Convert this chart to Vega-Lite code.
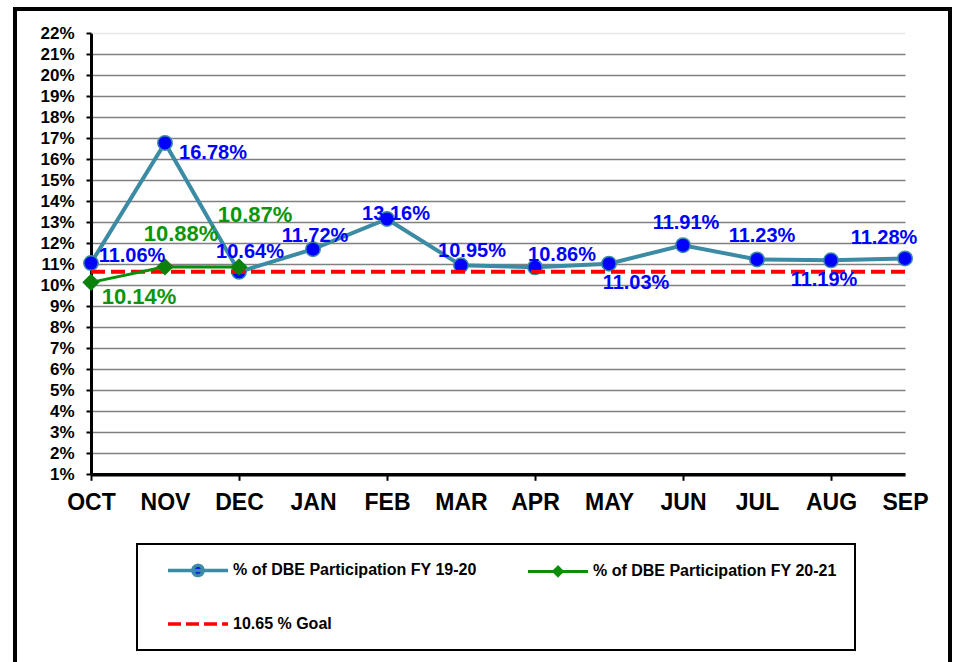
{
  "$schema": "https://vega.github.io/schema/vega-lite/v6.json",
  "width": 935,
  "height": 680,
  "autosize": {"type": "none"},
  "padding": {"left": 15, "top": 9, "right": 5, "bottom": 0},
  "background": "white",
  "config": {
    "view": {"stroke": "black", "strokeWidth": 4},
    "font": "Liberation Sans",
    "legend": {"strokeWidth": 2}
  },
  "data": {
    "values": [
      {"month": "OCT", "series": "% of DBE Participation FY 19-20", "value": 0.1106},
      {"month": "NOV", "series": "% of DBE Participation FY 19-20", "value": 0.1678},
      {"month": "DEC", "series": "% of DBE Participation FY 19-20", "value": 0.1064},
      {"month": "JAN", "series": "% of DBE Participation FY 19-20", "value": 0.1172},
      {"month": "FEB", "series": "% of DBE Participation FY 19-20", "value": 0.1316},
      {"month": "MAR", "series": "% of DBE Participation FY 19-20", "value": 0.1095},
      {"month": "APR", "series": "% of DBE Participation FY 19-20", "value": 0.1086},
      {"month": "MAY", "series": "% of DBE Participation FY 19-20", "value": 0.1103},
      {"month": "JUN", "series": "% of DBE Participation FY 19-20", "value": 0.1191},
      {"month": "JUL", "series": "% of DBE Participation FY 19-20", "value": 0.1123},
      {"month": "AUG", "series": "% of DBE Participation FY 19-20", "value": 0.1119},
      {"month": "SEP", "series": "% of DBE Participation FY 19-20", "value": 0.1128},
      {"month": "OCT", "series": "% of DBE Participation FY 20-21", "value": 0.1014},
      {"month": "NOV", "series": "% of DBE Participation FY 20-21", "value": 0.1088},
      {"month": "DEC", "series": "% of DBE Participation FY 20-21", "value": 0.1087},
      {"month": "OCT", "series": "10.65 % Goal", "value": 0.1065},
      {"month": "NOV", "series": "10.65 % Goal", "value": 0.1065},
      {"month": "DEC", "series": "10.65 % Goal", "value": 0.1065},
      {"month": "JAN", "series": "10.65 % Goal", "value": 0.1065},
      {"month": "FEB", "series": "10.65 % Goal", "value": 0.1065},
      {"month": "MAR", "series": "10.65 % Goal", "value": 0.1065},
      {"month": "APR", "series": "10.65 % Goal", "value": 0.1065},
      {"month": "MAY", "series": "10.65 % Goal", "value": 0.1065},
      {"month": "JUN", "series": "10.65 % Goal", "value": 0.1065},
      {"month": "JUL", "series": "10.65 % Goal", "value": 0.1065},
      {"month": "AUG", "series": "10.65 % Goal", "value": 0.1065},
      {"month": "SEP", "series": "10.65 % Goal", "value": 0.1065}
    ]
  },
  "encoding": {
    "x": {
      "field": "month",
      "type": "nominal",
      "scale": {
        "type": "point",
        "domain": ["OCT", "NOV", "DEC", "JAN", "FEB", "MAR", "APR", "MAY", "JUN", "JUL", "AUG", "SEP"],
        "range": [76, 890],
        "padding": 0
      },
      "axis": {
        "orient": "bottom",
        "offset": -214.7,
        "title": null,
        "labelAngle": 0,
        "labelFont": "Liberation Sans",
        "labelFontSize": 23,
        "labelFontWeight": "bold",
        "labelColor": "black",
        "labelPadding": 11,
        "labelOverlap": false,
        "domainColor": "black",
        "domainWidth": 3.5,
        "tickColor": "black",
        "tickWidth": 2,
        "tickSize": 6,
        "tickOpacity": {"condition": {"test": "indexof(['OCT','DEC','FEB','APR','JUN','AUG'], datum.value) >= 0", "value": 1}, "value": 0},
        "grid": false,
        "zindex": 0
      }
    },
    "y": {
      "field": "value",
      "type": "quantitative",
      "scale": {"domain": [0.01, 0.22], "range": [465.3, 24.3], "nice": false, "zero": false},
      "axis": {
        "orient": "left",
        "offset": -76,
        "title": null,
        "values": [0.01, 0.02, 0.03, 0.04, 0.05, 0.06, 0.07, 0.08, 0.09, 0.1, 0.11, 0.12, 0.13, 0.14, 0.15, 0.16, 0.17, 0.18, 0.19, 0.2, 0.21, 0.22],
        "format": ".0%",
        "labelFont": "Liberation Sans",
        "labelFontSize": 17,
        "labelFontWeight": "bold",
        "labelColor": "black",
        "labelPadding": 12,
        "labelOverlap": false,
        "domainColor": "black",
        "domainWidth": 3,
        "tickColor": "black",
        "tickWidth": 2,
        "tickSize": 5,
        "grid": true,
        "gridColor": {"condition": {"test": "datum.value > 0.215", "value": "#e8e8e8"}, "value": "#808080"},
        "gridWidth": 1.5,
        "zindex": 0
      }
    }
  },
  "layer": [
    {
      "transform": [{"filter": "datum.series === '% of DBE Participation FY 19-20'"}],
      "mark": {"type": "line", "strokeWidth": 4},
      "encoding": {
        "color": {
          "field": "series",
          "type": "nominal",
          "scale": {
            "domain": ["% of DBE Participation FY 19-20", "% of DBE Participation FY 20-21", "10.65 % Goal"],
            "range": ["#3B8BA5", "#0B8F0B", "#FF0000"]
          },
          "legend": {
            "orient": "none",
            "legendX": 122,
            "legendY": 535,
            "direction": "horizontal",
            "columns": 2,
            "title": null,
            "padding": 18,
            "symbolOffset": 35,
            "labelOffset": 27,
            "columnPadding": 38,
            "rowPadding": 33,
            "labelFont": "Liberation Sans",
            "labelFontSize": 16,
            "labelFontWeight": "bold",
            "labelColor": "black",
            "labelLimit": 400,
            "symbolSize": 900,
            "symbolStrokeWidth": 3.5,
            "strokeColor": "black",
            "fillColor": "white",
            "encode": {
              "symbols": {
                "update": {
                  "shape": {"signal": "datum.value === '% of DBE Participation FY 19-20' ? 'M-2,0H2M0.34,0A0.34,0.34,0,1,1,-0.34,0A0.34,0.34,0,1,1,0.34,0Z' : datum.value === '% of DBE Participation FY 20-21' ? 'M-2,0H2M0,-0.28L0.28,0L0,0.28L-0.28,0Z' : 'M-2,0H2'"},
                  "fill": {"signal": "datum.value === '% of DBE Participation FY 19-20' ? '#0000FF' : datum.value === '% of DBE Participation FY 20-21' ? '#0B8F0B' : 'transparent'"},
                  "strokeDash": {"signal": "datum.value === '10.65 % Goal' ? [13, 5] : [1, 0]"},
                  "strokeWidth": {"signal": "datum.value === '% of DBE Participation FY 20-21' ? 3 : 3.5"},
                  "opacity": {"value": 1}
                }
              }
            }
          }
        }
      }
    },
    {
      "transform": [{"filter": "datum.series === '% of DBE Participation FY 19-20'"}],
      "mark": {"type": "point", "shape": "circle", "filled": true, "fill": "#0000FF", "stroke": "#3B8BA5", "strokeWidth": 1.5, "size": 210, "opacity": 1},
      "encoding": {}
    },
    {
      "transform": [{"filter": "datum.series === '10.65 % Goal'"}],
      "mark": {"type": "line", "strokeWidth": 4, "strokeDash": [14, 6]},
      "encoding": {"color": {"field": "series", "type": "nominal", "legend": null}}
    },
    {
      "transform": [{"filter": "datum.series === '% of DBE Participation FY 20-21'"}],
      "mark": {"type": "line", "strokeWidth": 3},
      "encoding": {"color": {"field": "series", "type": "nominal", "legend": null}}
    },
    {
      "transform": [{"filter": "datum.series === '% of DBE Participation FY 20-21'"}],
      "mark": {"type": "point", "shape": "diamond", "filled": true, "fill": "#0B800B", "size": 300, "opacity": 1},
      "encoding": {}
    },
    {
      "transform": [{"filter": "datum.series === '% of DBE Participation FY 19-20'"}],
      "mark": {
        "type": "text",
        "font": "Liberation Sans",
        "fontWeight": "bold",
        "fontSize": 20,
        "color": "#0000FF",
        "align": "center",
        "baseline": "middle",
        "dx": {"expr": "({'OCT': 41, 'NOV': 48, 'DEC': 11, 'JAN': 2, 'FEB': 9, 'MAR': 11, 'APR': 27, 'MAY': 27, 'JUN': 3, 'JUL': 5, 'AUG': -7, 'SEP': -21})[datum.month]"},
        "dy": {"expr": "({'OCT': -7, 'NOV': 10, 'DEC': -20, 'JAN': -13, 'FEB': -5, 'MAR': -14, 'APR': -12, 'MAY': 19, 'JUN': -22, 'JUL': -23, 'AUG': 20, 'SEP': -20})[datum.month]"}
      },
      "encoding": {"text": {"field": "value", "type": "quantitative", "format": ".2%"}}
    },
    {
      "transform": [{"filter": "datum.series === '% of DBE Participation FY 20-21'"}],
      "mark": {
        "type": "text",
        "font": "Liberation Sans",
        "fontWeight": "bold",
        "fontSize": 22,
        "color": "#0A960A",
        "align": "center",
        "baseline": "middle",
        "dx": {"expr": "({'OCT': 48, 'NOV': 16, 'DEC': 16})[datum.month]"},
        "dy": {"expr": "({'OCT': 15, 'NOV': -33, 'DEC': -52})[datum.month]"}
      },
      "encoding": {"text": {"field": "value", "type": "quantitative", "format": ".2%"}}
    }
  ]
}
